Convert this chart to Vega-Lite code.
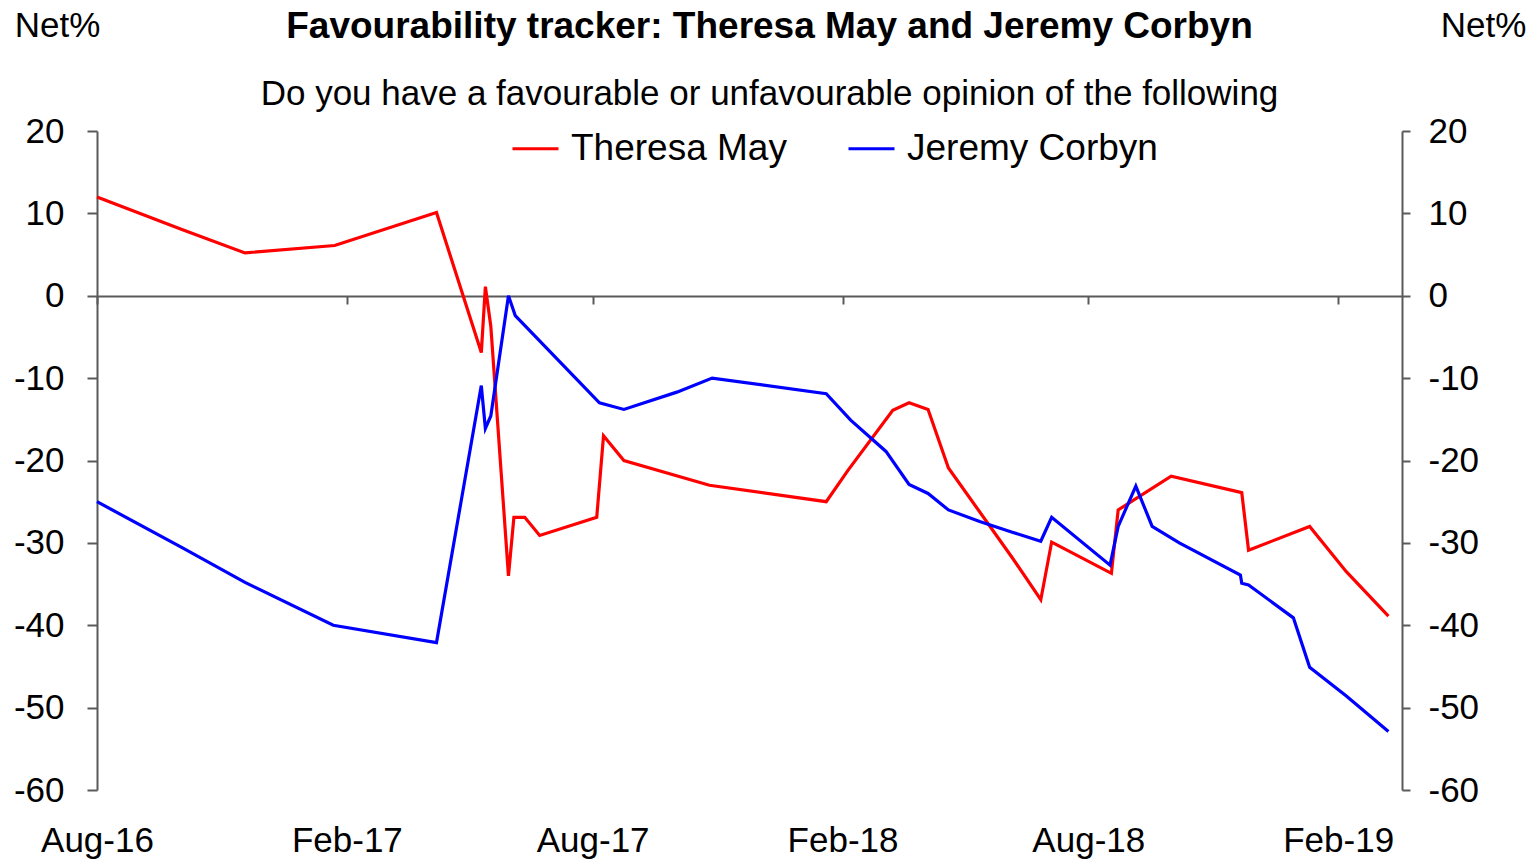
{
  "$schema": "https://vega.github.io/schema/vega-lite/v6.json",
  "width": 1305,
  "height": 659,
  "autosize": "none",
  "padding": {"left": 97, "top": 131, "right": 137, "bottom": 72},
  "background": "white",
  "config": {
    "font": "Liberation Sans",
    "view": {"stroke": null},
    "axis": {"grid": false, "labelColor": "#000000", "titleColor": "#000000", "domainColor": "#5a5a5a", "tickColor": "#5a5a5a", "domainWidth": 2, "tickWidth": 2}
  },
  "title": {
    "text": "Favourability tracker: Theresa May and Jeremy Corbyn",
    "subtitle": "Do you have a favourable  or unfavourable opinion of the following",
    "anchor": "middle",
    "dx": 20,
    "fontSize": 37,
    "fontWeight": "bold",
    "color": "#000000",
    "subtitleFontSize": 35,
    "subtitleColor": "#000000",
    "subtitlePadding": 31,
    "offset": -105
  },
  "data": {
    "values": [
      {"date": "2016-08-01", "person": "Theresa May", "net": 12.0},
      {"date": "2016-10-03", "person": "Theresa May", "net": 8.0},
      {"date": "2016-11-18", "person": "Theresa May", "net": 5.2},
      {"date": "2017-01-23", "person": "Theresa May", "net": 6.1},
      {"date": "2017-04-08", "person": "Theresa May", "net": 10.1},
      {"date": "2017-05-11", "person": "Theresa May", "net": -6.9},
      {"date": "2017-05-14", "person": "Theresa May", "net": 1.1},
      {"date": "2017-05-18", "person": "Theresa May", "net": -3.7},
      {"date": "2017-05-31", "person": "Theresa May", "net": -34.0},
      {"date": "2017-06-04", "person": "Theresa May", "net": -26.9},
      {"date": "2017-06-12", "person": "Theresa May", "net": -26.9},
      {"date": "2017-06-23", "person": "Theresa May", "net": -29.1},
      {"date": "2017-08-04", "person": "Theresa May", "net": -26.9},
      {"date": "2017-08-09", "person": "Theresa May", "net": -17.0},
      {"date": "2017-08-24", "person": "Theresa May", "net": -20.0},
      {"date": "2017-10-26", "person": "Theresa May", "net": -23.0},
      {"date": "2018-01-20", "person": "Theresa May", "net": -25.0},
      {"date": "2018-02-05", "person": "Theresa May", "net": -21.2},
      {"date": "2018-03-10", "person": "Theresa May", "net": -13.9},
      {"date": "2018-03-22", "person": "Theresa May", "net": -13.0},
      {"date": "2018-04-05", "person": "Theresa May", "net": -13.8},
      {"date": "2018-04-20", "person": "Theresa May", "net": -20.9},
      {"date": "2018-06-06", "person": "Theresa May", "net": -31.8},
      {"date": "2018-06-27", "person": "Theresa May", "net": -36.9},
      {"date": "2018-07-05", "person": "Theresa May", "net": -29.9},
      {"date": "2018-08-18", "person": "Theresa May", "net": -33.7},
      {"date": "2018-08-23", "person": "Theresa May", "net": -26.0},
      {"date": "2018-10-01", "person": "Theresa May", "net": -21.9},
      {"date": "2018-11-22", "person": "Theresa May", "net": -23.9},
      {"date": "2018-11-27", "person": "Theresa May", "net": -30.9},
      {"date": "2019-01-11", "person": "Theresa May", "net": -28.0},
      {"date": "2019-02-07", "person": "Theresa May", "net": -33.5},
      {"date": "2019-03-10", "person": "Theresa May", "net": -38.9},
      {"date": "2016-08-01", "person": "Jeremy Corbyn", "net": -25.0},
      {"date": "2016-10-03", "person": "Jeremy Corbyn", "net": -30.6},
      {"date": "2016-11-18", "person": "Jeremy Corbyn", "net": -34.8},
      {"date": "2017-01-22", "person": "Jeremy Corbyn", "net": -40.0},
      {"date": "2017-04-08", "person": "Jeremy Corbyn", "net": -42.1},
      {"date": "2017-05-11", "person": "Jeremy Corbyn", "net": -10.9},
      {"date": "2017-05-14", "person": "Jeremy Corbyn", "net": -16.1},
      {"date": "2017-05-18", "person": "Jeremy Corbyn", "net": -14.6},
      {"date": "2017-05-31", "person": "Jeremy Corbyn", "net": 0.0},
      {"date": "2017-06-05", "person": "Jeremy Corbyn", "net": -2.4},
      {"date": "2017-08-06", "person": "Jeremy Corbyn", "net": -13.0},
      {"date": "2017-08-24", "person": "Jeremy Corbyn", "net": -13.8},
      {"date": "2017-10-02", "person": "Jeremy Corbyn", "net": -11.7},
      {"date": "2017-10-28", "person": "Jeremy Corbyn", "net": -10.0},
      {"date": "2018-01-20", "person": "Jeremy Corbyn", "net": -11.9},
      {"date": "2018-02-07", "person": "Jeremy Corbyn", "net": -15.1},
      {"date": "2018-03-05", "person": "Jeremy Corbyn", "net": -18.9},
      {"date": "2018-03-22", "person": "Jeremy Corbyn", "net": -22.9},
      {"date": "2018-04-05", "person": "Jeremy Corbyn", "net": -24.0},
      {"date": "2018-04-20", "person": "Jeremy Corbyn", "net": -26.0},
      {"date": "2018-05-13", "person": "Jeremy Corbyn", "net": -27.4},
      {"date": "2018-06-06", "person": "Jeremy Corbyn", "net": -28.7},
      {"date": "2018-06-27", "person": "Jeremy Corbyn", "net": -29.8},
      {"date": "2018-07-05", "person": "Jeremy Corbyn", "net": -26.9},
      {"date": "2018-08-17", "person": "Jeremy Corbyn", "net": -32.7},
      {"date": "2018-08-23", "person": "Jeremy Corbyn", "net": -28.0},
      {"date": "2018-09-05", "person": "Jeremy Corbyn", "net": -23.1},
      {"date": "2018-09-17", "person": "Jeremy Corbyn", "net": -28.0},
      {"date": "2018-10-07", "person": "Jeremy Corbyn", "net": -30.0},
      {"date": "2018-11-21", "person": "Jeremy Corbyn", "net": -33.9},
      {"date": "2018-11-22", "person": "Jeremy Corbyn", "net": -34.9},
      {"date": "2018-11-27", "person": "Jeremy Corbyn", "net": -35.1},
      {"date": "2018-12-30", "person": "Jeremy Corbyn", "net": -39.1},
      {"date": "2019-01-11", "person": "Jeremy Corbyn", "net": -45.1},
      {"date": "2019-02-07", "person": "Jeremy Corbyn", "net": -48.6},
      {"date": "2019-03-10", "person": "Jeremy Corbyn", "net": -52.9}
    ]
  },
  "layer": [
    {
      "mark": {"type": "point", "opacity": 0},
      "encoding": {
        "x": {
          "field": "date", "type": "temporal",
          "scale": {"domain": ["2016-08-01", "2019-03-20"]},
          "axis": {
            "orient": "bottom", "offset": -494, "labels": false, "title": null,
            "tickSize": 8,
            "values": ["2016-08-01", "2017-02-01", "2017-08-01", "2018-02-01", "2018-08-01", "2019-02-01"]
          }
        },
        "y": {
          "field": "net", "type": "quantitative",
          "scale": {"domain": [-60, 20], "nice": false, "zero": false},
          "axis": {
            "orient": "right", "values": [-60, -50, -40, -30, -20, -10, 0, 10, 20],
            "labelExpr": "datum.value + ''",
            "tickSize": 8, "labelPadding": 18, "labelFontSize": 35, "labelAlign": "left", "labelBaseline": "middle",
            "title": "Net%", "titleAngle": 0, "titleX": 81, "titleY": -106, "titleAlign": "center", "titleBaseline": "middle",
            "titleFontSize": 35, "titleFontWeight": "normal"
          }
        }
      }
    },
    {
      "mark": {"type": "line", "strokeWidth": 3.2},
      "encoding": {
        "x": {
          "field": "date", "type": "temporal",
          "scale": {"domain": ["2016-08-01", "2019-03-20"]},
          "axis": {
            "orient": "bottom", "domain": false, "ticks": false, "title": null,
            "format": "%b-%y", "labelFontSize": 35, "labelPadding": 33, "labelFlush": false, "labelAlign": "center",
            "values": ["2016-08-01", "2017-02-01", "2017-08-01", "2018-02-01", "2018-08-01", "2019-02-01"]
          }
        },
        "y": {
          "field": "net", "type": "quantitative",
          "scale": {"domain": [-60, 20], "nice": false, "zero": false},
          "axis": {
            "orient": "left", "values": [-60, -50, -40, -30, -20, -10, 0, 10, 20],
            "labelExpr": "datum.value + ''",
            "tickSize": 10, "labelPadding": 23, "labelFontSize": 35, "labelBaseline": "middle",
            "title": "Net%", "titleAngle": 0, "titleX": -40, "titleY": -106, "titleAlign": "center", "titleBaseline": "middle",
            "titleFontSize": 35, "titleFontWeight": "normal"
          }
        },
        "color": {
          "field": "person", "type": "nominal",
          "scale": {"domain": ["Theresa May", "Jeremy Corbyn"], "range": ["#ff0000", "#0000ff"]},
          "legend": {
            "orient": "none", "legendX": 414, "legendY": -7, "direction": "horizontal", "title": null,
            "symbolType": "stroke", "symbolSize": 2116, "symbolStrokeWidth": 3,
            "labelFontSize": 37, "labelColor": "#000000", "labelOffset": 11, "labelLimit": 0, "columnPadding": 55
          }
        }
      }
    }
  ],
  "resolve": {"axis": {"x": "independent", "y": "independent"}}
}
